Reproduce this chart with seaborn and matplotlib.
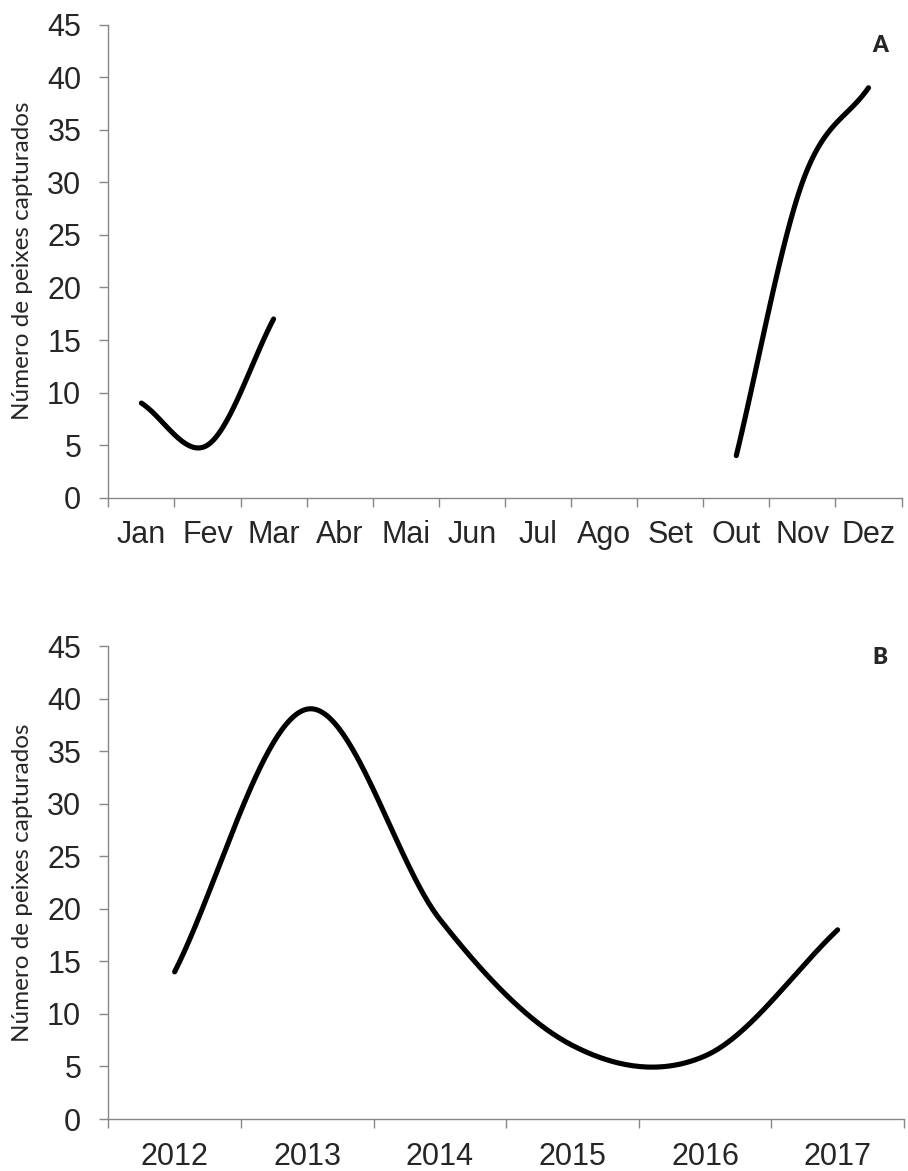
import numpy as np
import pandas as pd
import matplotlib
matplotlib.use("Agg")
import matplotlib.pyplot as plt
import seaborn as sns

# dados
meses = ["Jan", "Fev", "Mar", "Abr", "Mai", "Jun", "Jul", "Ago", "Set", "Out", "Nov", "Dez"]
peixes_mes = [9, 5, 17, None, None, None, None, None, None, 4, 30, 39]

anos = ["2012", "2013", "2014", "2015", "2016", "2017"]
peixes_ano = [14, 39, 19, 7, 6, 18]

ylabel = "Número de peixes capturados"
GRAY = "#878787"

sns.set_style("white")
plt.rcParams["font.family"] = ["Liberation Sans", "DejaVu Sans"]


def smooth_runs(values, n=60):
    """Curva suavizada (tipo linha suavizada do Excel) por trecho continuo."""
    runs, cur = [], []
    for i, v in enumerate(values):
        if v is None:
            if cur:
                runs.append(cur)
            cur = []
        else:
            cur.append((i, float(v)))
    if cur:
        runs.append(cur)

    frames = []
    for k, run in enumerate(runs):
        xs = np.array([p[0] for p in run], dtype=float)
        ys = np.array([p[1] for p in run])
        m = len(ys)
        slopes = np.zeros(m)
        for i in range(m):
            if i == 0:
                slopes[i] = ys[1] - ys[0]
            elif i == m - 1:
                slopes[i] = ys[-1] - ys[-2]
            else:
                slopes[i] = (ys[i + 1] - ys[i - 1]) / 2.0
        px, py = [], []
        for i in range(m - 1):
            t = np.linspace(0, 1, n)
            h00 = 2 * t**3 - 3 * t**2 + 1
            h10 = t**3 - 2 * t**2 + t
            h01 = -2 * t**3 + 3 * t**2
            h11 = t**3 - t**2
            px.append(xs[i] + t * (xs[i + 1] - xs[i]))
            py.append(h00 * ys[i] + h10 * slopes[i] + h01 * ys[i + 1] + h11 * slopes[i + 1])
        frames.append(pd.DataFrame({"x": np.concatenate(px), "y": np.concatenate(py), "run": k}))
    return frames


def style_axis(ax, cats, label_pad):
    n = len(cats)
    ax.set_xlim(-0.5, n - 0.5)
    ax.set_ylim(0, 45)
    ax.set_yticks(np.arange(0, 46, 5))
    ax.set_xticks(np.arange(n + 1) - 0.5)
    ax.set_xticklabels([])
    ax.set_xticks(np.arange(n), minor=True)
    ax.set_xticklabels(cats, minor=True)
    ax.tick_params(axis="x", which="major", direction="out", length=6.5, width=1.0,
                   color=GRAY, bottom=True)
    ax.tick_params(axis="x", which="minor", length=0, pad=label_pad, labelsize=22,
                   bottom=True)
    ax.tick_params(axis="y", direction="out", length=6.5, width=1.0, color=GRAY,
                   left=True, pad=13, labelsize=22)
    for s in ["top", "right"]:
        ax.spines[s].set_visible(False)
    for s in ["left", "bottom"]:
        ax.spines[s].set_color(GRAY)
        ax.spines[s].set_linewidth(1.0)
    ax.set_xlabel("")
    ax.set_ylabel(ylabel, family=["Lato", "DejaVu Sans"], fontsize=17.5, va="center")
    ax.yaxis.set_label_coords(-0.108, 0.5)


fig = plt.figure(figsize=(9.08, 11.71), dpi=100)
ax_a = fig.add_axes([0.1193, 0.5750, 0.8736, 0.4039])
ax_b = fig.add_axes([0.1193, 0.0444, 0.8762, 0.4039])

for seg in smooth_runs(peixes_mes):
    sns.lineplot(data=seg, x="x", y="y", ax=ax_a, color="black", linewidth=3.7,
                 sort=False, estimator=None, solid_capstyle="round")
for seg in smooth_runs(peixes_ano):
    sns.lineplot(data=seg, x="x", y="y", ax=ax_b, color="black", linewidth=3.7,
                 sort=False, estimator=None, solid_capstyle="round")

style_axis(ax_a, meses, 16)
style_axis(ax_b, anos, 16.5)

fig.text(880 / 908, 1 - 45 / 1171, "A", fontsize=16, fontweight="heavy",
         family=["Lato", "DejaVu Sans"], ha="center", va="center")
fig.text(880 / 908, 1 - 658 / 1171, "B", fontsize=16, fontweight="heavy",
         family=["Lato", "DejaVu Sans"], ha="center", va="center")

fig.savefig("out.png", dpi=100)
